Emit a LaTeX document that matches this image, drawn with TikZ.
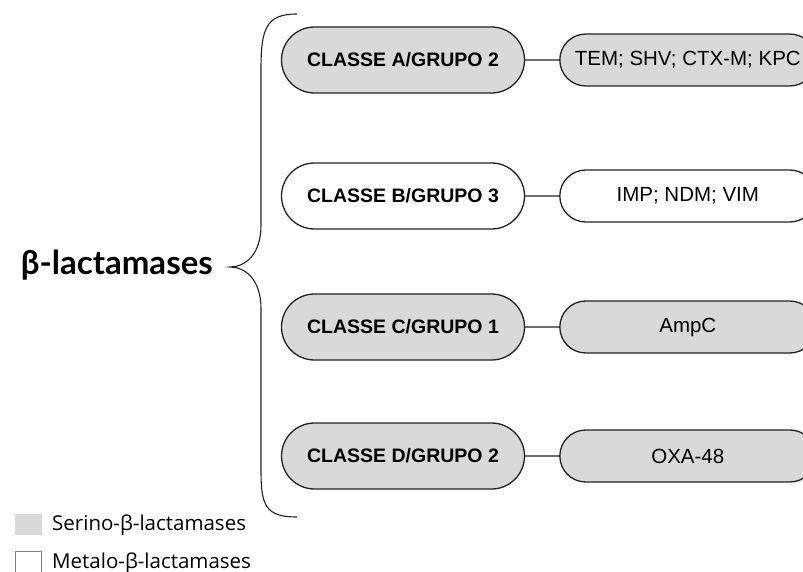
\documentclass[tikz,border=0pt]{standalone}
\usepackage{fontspec}
\setmainfont{Liberation Sans}
\newfontfamily\titlefont{Lato}
\newfontfamily\legfont{Open Sans}
\usepackage{xcolor}
\usetikzlibrary{shapes.misc,positioning}
\definecolor{serfill}{HTML}{D9D9D9}
\definecolor{edge}{HTML}{222222}

\begin{document}
\begin{tikzpicture}[
    x=1pt, y=-1pt,
    node distance=34pt,
    classbox/.style={rounded rectangle, draw=edge, line width=1.3pt, minimum width=243pt, minimum height=66pt, inner sep=0pt, font=\fontsize{19.5}{22}\selectfont\bfseries},
    enzbox/.style={rounded rectangle, draw=edge, line width=1.3pt, minimum width=256pt, minimum height=52pt, inner sep=0pt, font=\fontsize{20.5}{23}\selectfont},
    serino/.style={fill=serfill},
    metalo/.style={fill=white},
    link/.style={draw=edge, line width=1.1pt},
    legtext/.style={anchor=base west, inner sep=0pt, font=\legfont\fontsize{20.5}{23}\selectfont}
]
\useasboundingbox (0,0) rectangle (803,572);

% classes
\node[classbox, serino] (clsA) at (403,60) {CLASSE A/GRUPO 2};
\node[classbox, metalo] (clsB) at (403,196) {CLASSE B/GRUPO 3};
\node[classbox, serino] (clsC) at (403,327) {CLASSE C/GRUPO 1};
\node[classbox, serino] (clsD) at (403,456) {CLASSE D/GRUPO 2};

% enzymes
\node[enzbox, serino, right=of clsA] (enzA) {TEM; SHV; CTX-M; KPC};
\node[enzbox, metalo, right=of clsB] (enzB) {IMP; NDM; VIM};
\node[enzbox, serino, right=of clsC] (enzC) {AmpC};
\node[enzbox, serino, right=of clsD] (enzD) {OXA-48};

\draw[link] (clsA) -- (enzA);
\draw[link] (clsB) -- (enzB);
\draw[link] (clsC) -- (enzC);
\draw[link] (clsD) -- (enzD);

% brace
\coordinate (btop) at (297,14);
\coordinate (btip) at (230,267);
\coordinate (bbot) at (297,517);
\draw[edge, line width=1.1pt] (btop) .. controls (265,14) and (261,30) .. (261,70)
  -- (261,225) .. controls (261,255) and (245,267) .. (btip)
  .. controls (245,267) and (261,279) .. (261,309)
  -- (261,470) .. controls (261,505) and (265,517) .. (bbot);
\node[anchor=base east, inner sep=0pt, font=\titlefont\fontsize{33}{36}\selectfont\bfseries] (title) at (213,274) {β-lactamases};

% legend
\node[fill=serfill, minimum width=27pt, minimum height=21pt, inner sep=0pt] (legS) at (28.5,524.5) {};
\node[draw=gray, line width=0.6pt, fill=white, minimum width=26pt, minimum height=22pt, inner sep=0pt] (legM) at (28.5,562) {};
\node[legtext] (legSt) at (52,530) {Serino-β-lactamases};
\node[legtext] (legMt) at (52,568) {Metalo-β-lactamases};
\end{tikzpicture}
\end{document}
